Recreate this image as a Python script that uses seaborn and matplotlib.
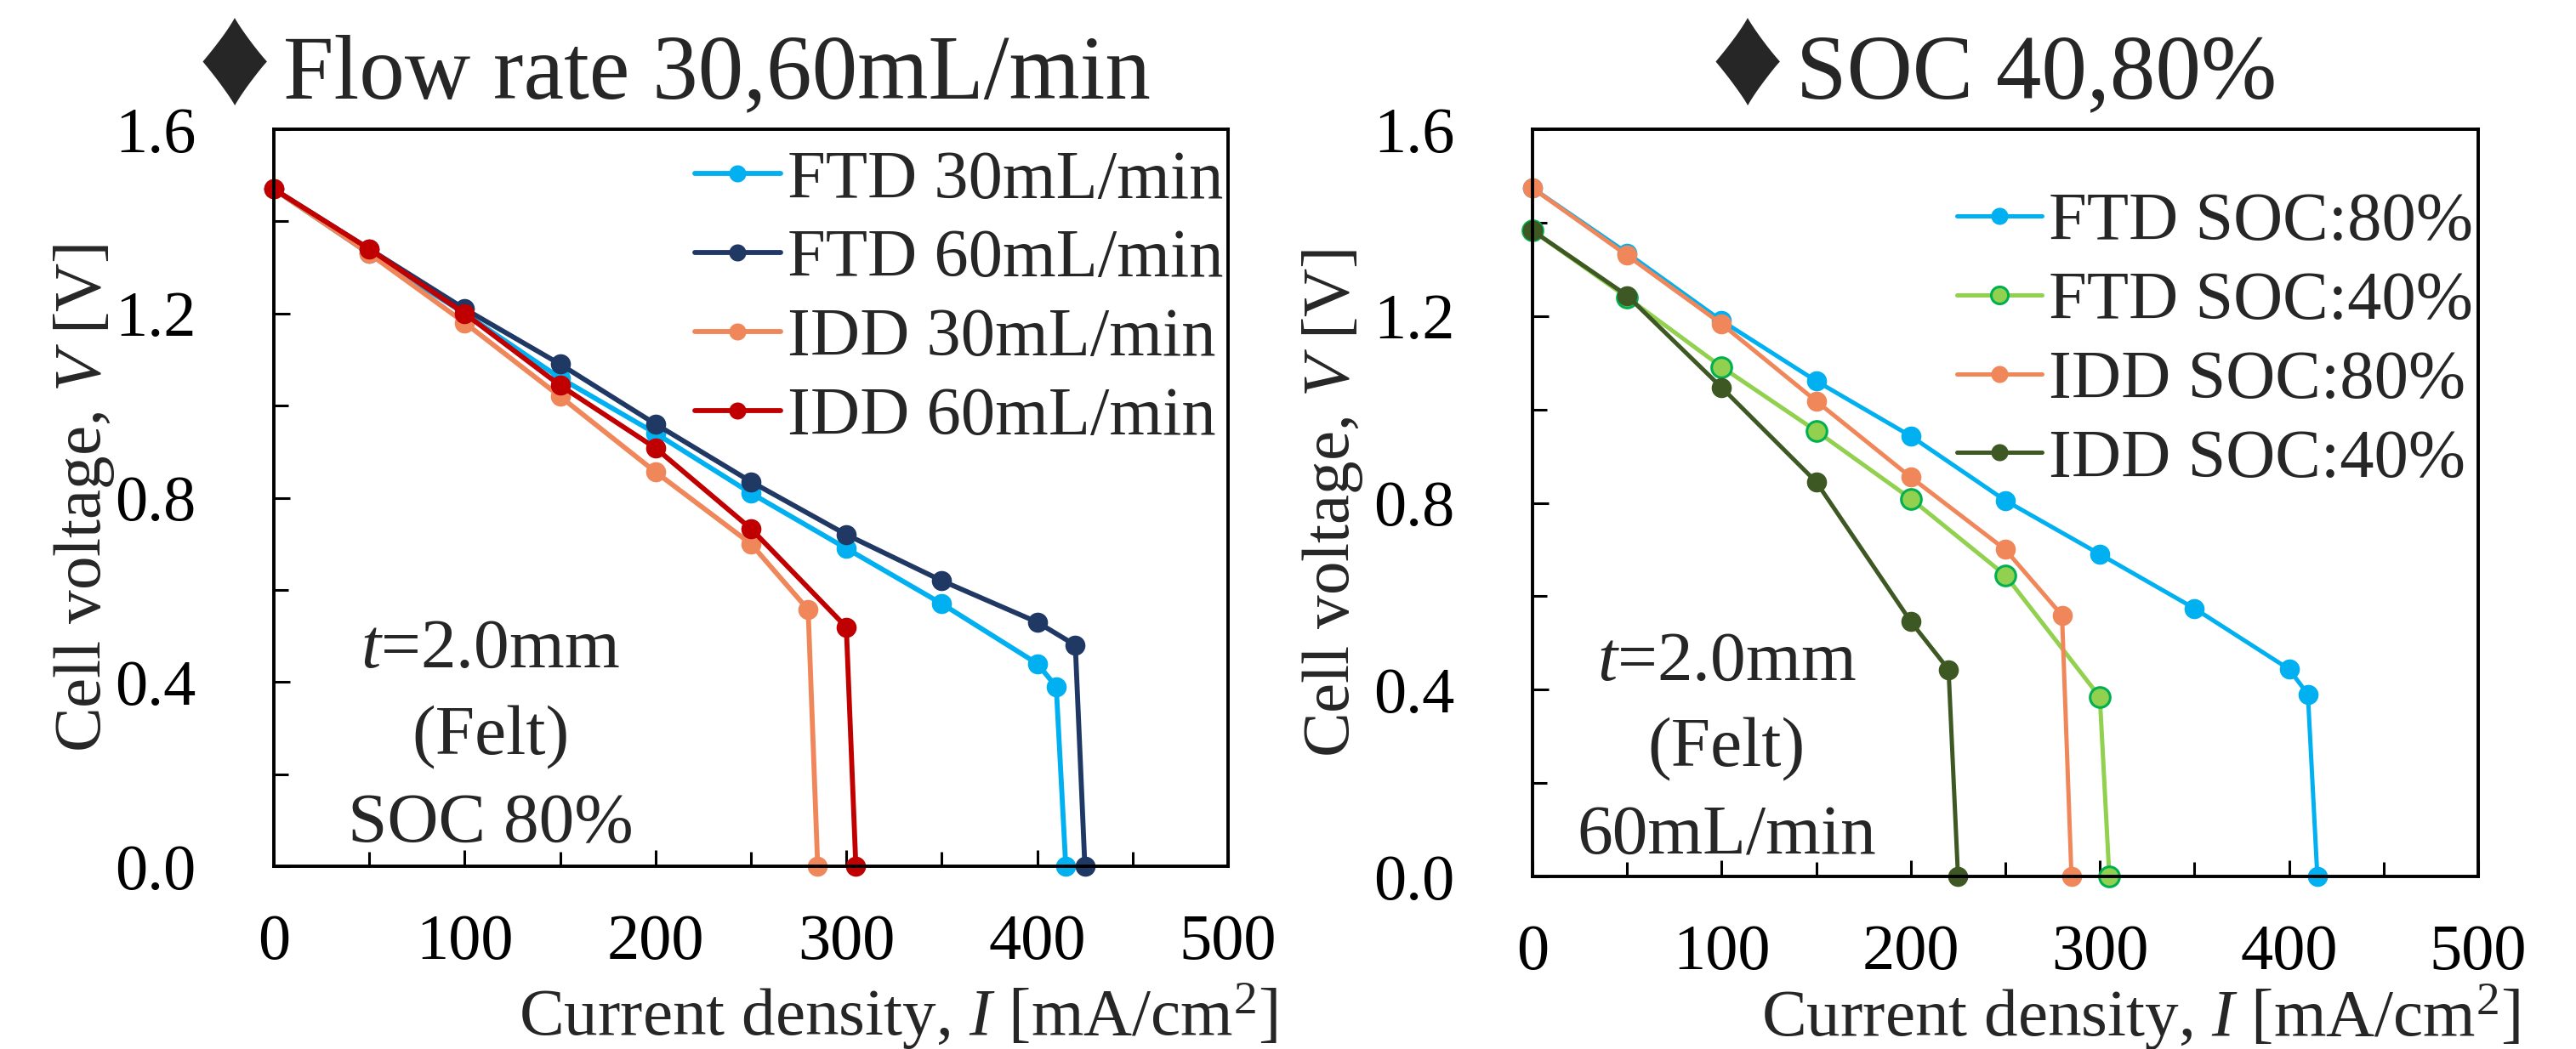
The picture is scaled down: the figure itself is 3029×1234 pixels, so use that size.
import matplotlib
matplotlib.use("Agg")
import matplotlib.pyplot as plt
from matplotlib.ticker import MultipleLocator, FormatStrFormatter
import seaborn as sns

# ---- data: left panel (flow rate, SOC 80%) ----
flow_labels = ["FTD 30mL/min", "FTD 60mL/min", "IDD 30mL/min", "IDD 60mL/min"]
ftd30_i = [0, 50, 100, 150, 200, 250, 300, 350, 400, 410, 415]
ftd30_v = [1.47, 1.33, 1.20, 1.06, 0.94, 0.81, 0.69, 0.57, 0.44, 0.39, 0.0]
ftd60_i = [0, 50, 100, 150, 200, 250, 300, 350, 400, 420, 425]
ftd60_v = [1.47, 1.34, 1.21, 1.09, 0.96, 0.835, 0.72, 0.62, 0.53, 0.48, 0.0]
idd30_i = [0, 50, 100, 150, 200, 250, 280, 285]
idd30_v = [1.47, 1.33, 1.18, 1.02, 0.856, 0.70, 0.557, 0.0]
idd60_i = [0, 50, 100, 150, 200, 250, 300, 305]
idd60_v = [1.47, 1.34, 1.20, 1.044, 0.908, 0.733, 0.519, 0.0]

# ---- data: right panel (SOC, 60 mL/min) ----
soc_labels = ["FTD SOC:80%", "FTD SOC:40%", "IDD SOC:80%", "IDD SOC:40%"]
ftd80_i = [0, 50, 100, 150, 200, 250, 300, 350, 400, 410, 415]
ftd80_v = [1.474, 1.335, 1.19, 1.061, 0.943, 0.805, 0.69, 0.574, 0.444, 0.39, 0.0]
ftd40_i = [0, 50, 100, 150, 200, 250, 300, 305]
ftd40_v = [1.383, 1.24, 1.091, 0.954, 0.809, 0.645, 0.384, 0.0]
idd80_i = [0, 50, 100, 150, 200, 250, 280, 285]
idd80_v = [1.474, 1.33, 1.183, 1.018, 0.855, 0.70, 0.559, 0.0]
idd40_i = [0, 50, 100, 150, 200, 220, 225]
idd40_v = [1.383, 1.244, 1.047, 0.845, 0.546, 0.443, 0.0]

flow_colors = ["#00B0F0", "#203864", "#F0875A", "#C00000"]
soc_colors = ["#00B0F0", "#92D050", "#F0875A", "#3E5824"]
soc_edges = ["#00B0F0", "#00B050", "#F0875A", "#3E5824"]

sns.set_theme(style="ticks")
plt.rcParams.update({
    "font.family": ["Liberation Serif", "DejaVu Serif"],
    "mathtext.fontset": "custom",
    "mathtext.rm": "Liberation Serif",
    "mathtext.it": "Liberation Serif:italic",
    "axes.linewidth": 2.8,
    "axes.edgecolor": "black",
    "xtick.color": "black",
    "ytick.color": "black",
})

TICK_FS = 55
LABEL_FS = 57
LEG_FS = 58
NOTE_FS = 60
TITLE_FS = 77

fig = plt.figure(figsize=(30.29, 12.34), dpi=100)
ax1 = fig.add_axes([0.1063, 0.1742, 0.3704, 0.7026])
ax2 = fig.add_axes([0.5949, 0.1645, 0.3671, 0.7123])


def style_axes(ax):
    ax.set_xlim(0, 500)
    ax.set_ylim(0, 1.6)
    ax.xaxis.set_major_locator(MultipleLocator(100))
    ax.xaxis.set_minor_locator(MultipleLocator(50))
    ax.yaxis.set_major_locator(MultipleLocator(0.4))
    ax.yaxis.set_minor_locator(MultipleLocator(0.2))
    ax.yaxis.set_major_formatter(FormatStrFormatter("%.1f"))
    ax.tick_params(which="both", direction="in", width=2.2, top=False, right=False)
    ax.tick_params(which="major", length=14)
    ax.tick_params(which="minor", length=12)
    ax.tick_params(axis="x", which="major", pad=40, labelsize=TICK_FS)
    ax.tick_params(axis="y", which="major", pad=66, labelsize=TICK_FS)
    for s in ax.spines.values():
        s.set_visible(True)
        s.set_color("black")


# left panel
flow_series = [(ftd30_i, ftd30_v), (ftd60_i, ftd60_v), (idd30_i, idd30_v), (idd60_i, idd60_v)]
for (xi, yv), lab, col in zip(flow_series, flow_labels, flow_colors):
    sns.lineplot(x=xi, y=yv, ax=ax1, sort=False, estimator=None, errorbar=None,
                 color=col, linewidth=4.2, marker="o", markersize=17,
                 markeredgecolor=col, markeredgewidth=0, label=lab, clip_on=False)

# right panel
soc_series = [(ftd80_i, ftd80_v), (ftd40_i, ftd40_v), (idd80_i, idd80_v), (idd40_i, idd40_v)]
for (xi, yv), lab, col, ec in zip(soc_series, soc_labels, soc_colors, soc_edges):
    sns.lineplot(x=xi, y=yv, ax=ax2, sort=False, estimator=None, errorbar=None,
                 color=col, linewidth=3.6, marker="o", markersize=17,
                 markeredgecolor=ec, markeredgewidth=2.2 if ec != col else 0,
                 label=lab, clip_on=False)

for ax in (ax1, ax2):
    style_axes(ax)
    ax.set_ylabel("Cell voltage, $V$ [V]", fontsize=LABEL_FS)
    ax.set_xlabel("Current density, $I$ [mA/cm$^2$]", fontsize=LABEL_FS, ha="right")

ax1.yaxis.set_label_coords(-0.165, 0.5)
ax2.yaxis.set_label_coords(-0.177, 0.5)
ax1.xaxis.set_label_coords(1.052, -0.156)
ax2.xaxis.set_label_coords(1.044, -0.141)

ax1.legend(loc="upper right", bbox_to_anchor=(0.995, 0.972), frameon=False,
           fontsize=LEG_FS, borderpad=0, borderaxespad=0, handlelength=1.25,
           handletextpad=0.1, labelspacing=0.24, markerscale=0.85)
ax2.legend(loc="upper right", bbox_to_anchor=(0.995, 0.916), frameon=False,
           fontsize=LEG_FS, borderpad=0, borderaxespad=0, handlelength=1.25,
           handletextpad=0.1, labelspacing=0.24, markerscale=0.85)

# condition notes
left_note = ["$t$=2.0mm", "(Felt)", "SOC 80%"]
right_note = ["$t$=2.0mm", "(Felt)", "60mL/min"]
for line, yb in zip(left_note, [0.270, 0.152, 0.033]):
    ax1.text(0.227, yb, line, transform=ax1.transAxes, ha="center", va="baseline",
             fontsize=NOTE_FS)
for line, yb in zip(right_note, [0.263, 0.147, 0.030]):
    ax2.text(0.205, yb, line, transform=ax2.transAxes, ha="center", va="baseline",
             fontsize=NOTE_FS)

# panel titles: a large diamond bullet followed by the heading
fig.text(0.0912, 0.9344, "\u2666", ha="center", va="center", fontsize=122)
fig.text(0.1099, 0.9068, "Flow rate 30,60mL/min", ha="left", va="baseline",
         fontsize=TITLE_FS)
fig.text(0.6785, 0.9344, "\u2666", ha="center", va="center", fontsize=122)
fig.text(0.6973, 0.9068, "SOC 40,80%", ha="left", va="baseline",
         fontsize=TITLE_FS)

fig.savefig("out.png", dpi=100)
